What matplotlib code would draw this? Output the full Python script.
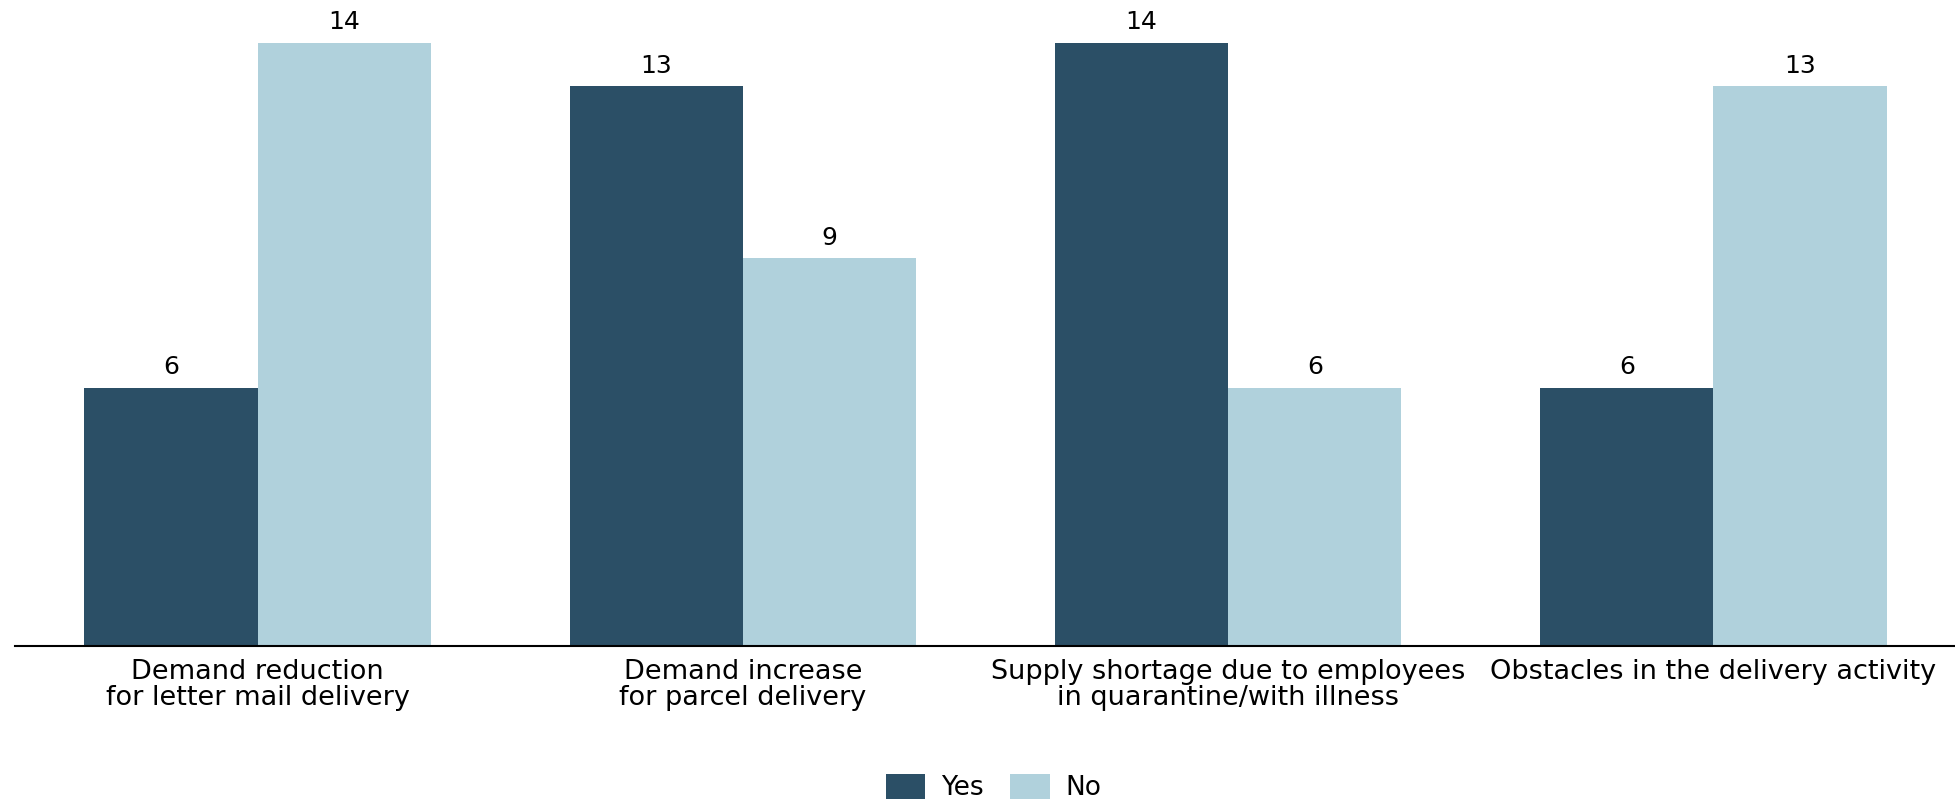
import numpy as np
import matplotlib.pyplot as plt

categories = ['Demand reduction\nfor letter mail delivery',
              'Demand increase\nfor parcel delivery',
              'Supply shortage due to employees\nin quarantine/with illness',
              'Obstacles in the delivery activity']
yes_vals = [6, 13, 14, 6]
no_vals = [14, 9, 6, 13]

plt.rcParams['font.family'] = ['DejaVu Sans']

fig = plt.figure(figsize=(19.56, 8.02), dpi=100)
ax = fig.add_axes([0.0077, 0.1945, 0.9923, 0.8055])

x = np.arange(len(categories))
w = 0.357
b1 = ax.bar(x - w/2, yes_vals, w, color='#2b4f66', label='Yes')
b2 = ax.bar(x + w/2, no_vals, w, color='#b0d1dc', label='No')

# value labels above bars
for bars in (b1, b2):
    for bar in bars:
        ax.text(bar.get_x() + bar.get_width()/2, bar.get_height() + 0.2,
                f'{bar.get_height():.0f}', ha='center', va='bottom', fontsize=18)

ax.set_xlim(-0.5, 3.5)
ax.set_ylim(0, 15)
ax.set_xticks(x)
ax.set_xticklabels(categories, fontsize=19.5, linespacing=1.02)
ax.tick_params(axis='x', length=0, pad=9)
ax.set_yticks([])
for s in ['top', 'right', 'left']:
    ax.spines[s].set_visible(False)
ax.spines['bottom'].set_linewidth(1.5)

fig.legend(loc='center', bbox_to_anchor=(0.508, 0.018), ncol=2, frameon=False,
           fontsize=19, handlelength=1.5, handleheight=1.1, columnspacing=1.0,
           handletextpad=0.6)

plt.savefig('out.png', dpi=100)
